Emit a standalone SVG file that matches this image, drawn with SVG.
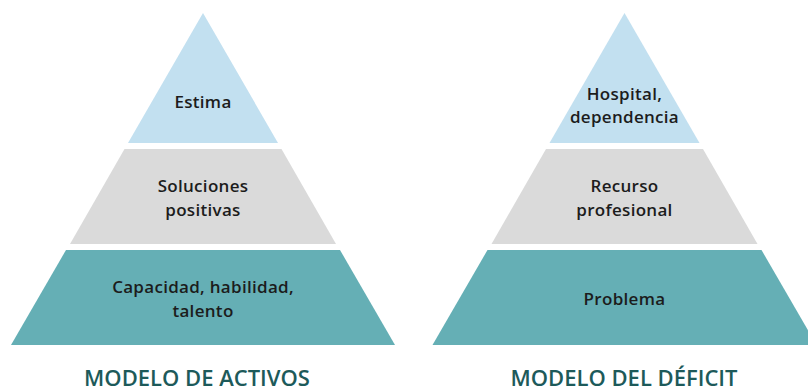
<svg xmlns="http://www.w3.org/2000/svg" width="808" height="391" viewBox="0 0 808 391">
<style>
.blue{fill:#c2e0f0}
.gray{fill:#dadada}
.teal{fill:#65afb5}
.lbl{font-family:"Open Sans","Noto Sans","Liberation Sans",sans-serif;font-size:17px;font-weight:600;fill:#1c1c1c;text-anchor:middle;letter-spacing:0.3px}
.title{font-family:"Open Sans","Noto Sans","Liberation Sans",sans-serif;font-size:22px;font-weight:600;fill:#1d5a5a;text-anchor:middle}
</style>
<rect width="808" height="391" fill="#ffffff"/>
<g id="activos">
<g id="activos-estima">
<polygon class="blue" points="203,13 278,143 128,143"/>
<text class="lbl" x="203" y="108">Estima</text>
</g>
<g id="activos-soluciones">
<polygon class="gray" points="124.5,149 281.5,149 336,244 70,244"/>
<text class="lbl" x="203" y="192">Soluciones</text>
<text class="lbl" x="203" y="216">positivas</text>
</g>
<g id="activos-capacidad">
<polygon class="teal" points="66,250 340,250 395,345 11,345"/>
<text class="lbl" x="203" y="293">Capacidad, habilidad,</text>
<text class="lbl" x="203" y="317">talento</text>
</g>
<text class="title" x="197" y="386">MODELO DE ACTIVOS</text>
</g>
<g id="deficit">
<g id="deficit-hospital">
<polygon class="blue" points="624.5,13 699.5,143 549.5,143"/>
<text class="lbl" x="624.5" y="100">Hospital,</text>
<text class="lbl" x="624.5" y="123">dependencia</text>
</g>
<g id="deficit-recurso">
<polygon class="gray" points="546,149 703,149 757.5,244 491.5,244"/>
<text class="lbl" x="624.5" y="192">Recurso</text>
<text class="lbl" x="624.5" y="216">profesional</text>
</g>
<g id="deficit-problema">
<polygon class="teal" points="487.5,250 761.5,250 816.5,345 432.5,345"/>
<text class="lbl" x="624.5" y="305">Problema</text>
</g>
<text class="title" x="624" y="386">MODELO DEL DÉFICIT</text>
</g>
<g id="connectors"/>
</svg>
